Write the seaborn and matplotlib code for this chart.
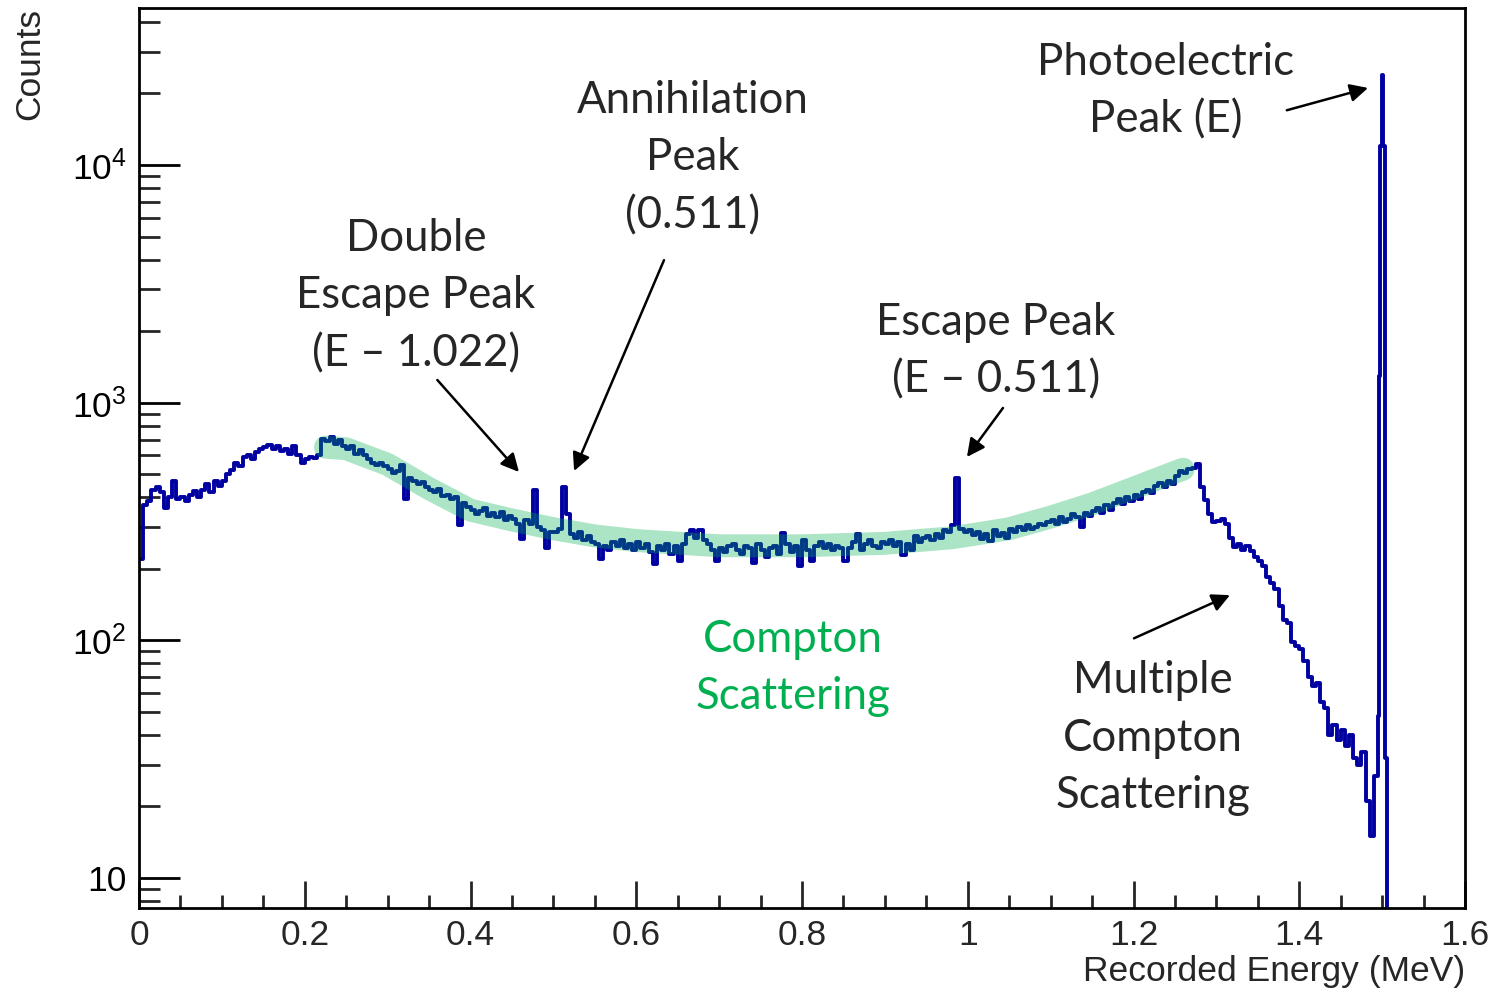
import numpy as np
import pandas as pd
import matplotlib
matplotlib.use("Agg")
import matplotlib.pyplot as plt
from matplotlib.ticker import FixedLocator, FixedFormatter, LogLocator, NullFormatter
import seaborn as sns

# --- spectrum, counts per 5 keV bin ---
bin_width = 0.005
counts_low = [  # 0.000 - 0.495 MeV
    220, 370, 385, 430, 440, 420, 360, 400, 470, 395,
    400, 385, 410, 425, 400, 430, 455, 420, 470, 445,
    470, 500, 520, 560, 540, 590, 600, 580, 620, 640,
    650, 665, 640, 660, 625, 640, 610, 660, 600, 555,
    580, 590, 585, 600, 705, 690, 715, 670, 700, 660,
    640, 655, 610, 630, 600, 580, 560, 545, 560, 540,
    525, 505, 515, 545, 395, 480, 470, 455, 465, 440,
    430, 420, 435, 405, 410, 395, 400, 305, 380, 365,
    355, 340, 350, 362, 335, 345, 330, 348, 320, 335,
    325, 310, 268, 320, 310, 430, 300, 290, 245, 285,
]
counts_mid = [  # 0.500 - 0.995 MeV
    285, 295, 440, 340, 280, 270, 285, 265, 275, 260,
    255, 220, 250, 240, 260, 250, 265, 245, 255, 240,
    260, 245, 255, 235, 210, 250, 240, 255, 230, 250,
    215, 255, 280, 290, 270, 292, 265, 255, 240, 215,
    245, 235, 250, 255, 240, 230, 250, 245, 212, 255,
    240, 225, 245, 250, 230, 282, 255, 235, 250, 205,
    265, 240, 215, 250, 260, 245, 255, 240, 250, 245,
    215, 245, 260, 280, 240, 255, 265, 250, 245, 260,
    255, 265, 250, 260, 228, 255, 240, 275, 260, 270,
    275, 265, 280, 270, 290, 285, 305, 480, 295, 285,
]
counts_high = [  # 1.000 - 1.490 MeV
    290, 278, 285, 268, 280, 262, 290, 275, 283, 270,
    295, 285, 300, 290, 305, 295, 300, 310, 305, 315,
    320, 310, 330, 315, 325, 340, 330, 300, 345, 335,
    350, 360, 345, 370, 355, 380, 395, 375, 400, 385,
    410, 395, 420, 430, 415, 445, 460, 440, 470, 455,
    490, 515, 505, 525, 530, 550, 440, 390, 340, 315,
    318, 325, 310, 270, 248, 255, 240, 250, 238, 225,
    215, 205, 185, 175, 165, 140, 122, 118, 98, 95,
    92, 82, 70, 64, 66, 55, 52, 40, 44, 38,
    42, 36, 40, 32, 30, 34, 21, 15, 27,
]
# photopeak region, finer binning
peak_edges = [1.495, 1.4965, 1.4975, 1.4995, 1.501, 1.503, 1.5055, 1.6]
peak_counts = [48, 1300, 12000, 24000, 12000, 32, 0]

# guide band along the Compton continuum
band_energy = [0.225, 0.25, 0.30, 0.35, 0.40, 0.45, 0.50, 0.55, 0.60, 0.70,
               0.80, 0.90, 0.98, 1.01, 1.05, 1.10, 1.15, 1.20, 1.25, 1.26]
band_counts = [650, 640, 550, 435, 353, 321, 295, 275, 263, 250,
               250, 256, 270, 280, 295, 330, 375, 437, 510, 525]

x_ticks = [0, 0.2, 0.4, 0.6, 0.8, 1.0, 1.2, 1.4, 1.6]
x_tick_labels = ["0", "0.2", "0.4", "0.6", "0.8", "1", "1.2", "1.4", "1.6"]
y_ticks = [10, 100, 1000, 10000]
y_tick_labels = ["10", "$10^{2}$", "$10^{3}$", "$10^{4}$"]

# --- build step outline of the histogram ---
counts_main = counts_low + counts_mid + counts_high
main_edges = np.round(np.arange(len(counts_main) + 1) * bin_width, 4)
all_edges = np.concatenate([main_edges, peak_edges[1:]])
all_counts = np.array(counts_main + peak_counts, dtype=float)
spec = pd.DataFrame({"energy": all_edges,
                     "counts": np.append(all_counts, all_counts[-1])})

sns.set_theme(style="white")
plt.rcParams["font.family"] = ["Liberation Sans", "DejaVu Sans"]
plt.rcParams["mathtext.fontset"] = "custom"
plt.rcParams["mathtext.rm"] = "Liberation Sans"
plt.rcParams["mathtext.it"] = "Liberation Sans:italic"
plt.rcParams["mathtext.bf"] = "Liberation Sans:bold"

fig = plt.figure(figsize=(14.96, 9.89), dpi=100)
ax = fig.add_axes([139 / 1496, 1 - 908 / 989, 1326 / 1496, 900 / 989])
ax.set_yscale("log")

sns.lineplot(data=spec, x="energy", y="counts", drawstyle="steps-post",
             estimator=None, color="#0000a0", linewidth=2.8, ax=ax, zorder=2)
ax.plot(band_energy, band_counts, color="#00b050", alpha=0.33, lw=16.5,
        solid_capstyle="round", zorder=3)

ax.set_xlim(0, 1.6)
ax.set_ylim(7.48, 45780)

ax.xaxis.set_major_locator(FixedLocator(x_ticks))
ax.xaxis.set_major_formatter(FixedFormatter(x_tick_labels))
ax.xaxis.set_minor_locator(FixedLocator(np.arange(0, 1.6001, 0.05)))
ax.yaxis.set_major_locator(FixedLocator(y_ticks))
ax.yaxis.set_major_formatter(FixedFormatter(y_tick_labels))
ax.yaxis.set_minor_locator(LogLocator(base=10, subs=range(2, 10)))
ax.yaxis.set_minor_formatter(NullFormatter())

ax.tick_params(axis="y", which="major", direction="in", length=29.5, width=2,
               pad=9, labelsize=25.5, left=True, right=False, colors="black")
ax.tick_params(axis="y", which="minor", direction="in", length=15, width=2,
               left=True, right=False)
ax.tick_params(axis="x", which="major", direction="in", length=19.5, width=2,
               pad=8, labelsize=25.5, bottom=True, top=False)
ax.tick_params(axis="x", which="minor", direction="in", length=9.5, width=2,
               bottom=True, top=False)
for sp in ax.spines.values():
    sp.set_linewidth(2)
    sp.set_color("black")

ax.set_xlabel("Recorded Energy (MeV)", fontsize=25.5, loc="right", labelpad=2)
ax.set_ylabel("Counts", fontsize=25.5, loc="top", labelpad=18)

# --- annotations ---
txt = dict(family=["Lato", "DejaVu Sans"], fontsize=31.5, ha="center",
           va="center", linespacing=1.5)
arrow = dict(arrowstyle="-|>", color="black", lw=1.8, mutation_scale=27,
             shrinkA=0, shrinkB=0)

ax.text(0.334, 2810, "Double\nEscape Peak\n(E \u2013 1.022)", **txt)
ax.annotate("", xy=(0.4585, 511), xytext=(0.360, 1246), arrowprops=arrow)

ax.text(0.668, 10700, "Annihilation\nPeak\n(0.511)", **txt)
ax.annotate("", xy=(0.525, 516), xytext=(0.6335, 3980), arrowprops=arrow)

ax.text(1.034, 1650, "Escape Peak\n(E \u2013 0.511)", **txt)
ax.annotate("", xy=(0.999, 591), xytext=(1.0425, 950), arrowprops=arrow)

ax.text(1.239, 20470, "Photoelectric\nPeak (E)", **txt)
ax.annotate("", xy=(1.483, 21100), xytext=(1.385, 17000), arrowprops=arrow)

ax.text(0.789, 76.5, "Compton\nScattering", color="#00b050", **txt)

ax.text(1.2235, 38.8, "Multiple\nCompton\nScattering", **txt)
ax.annotate("", xy=(1.3164, 155), xytext=(1.2006, 102), arrowprops=arrow)

fig.savefig("out.png", dpi=100)
